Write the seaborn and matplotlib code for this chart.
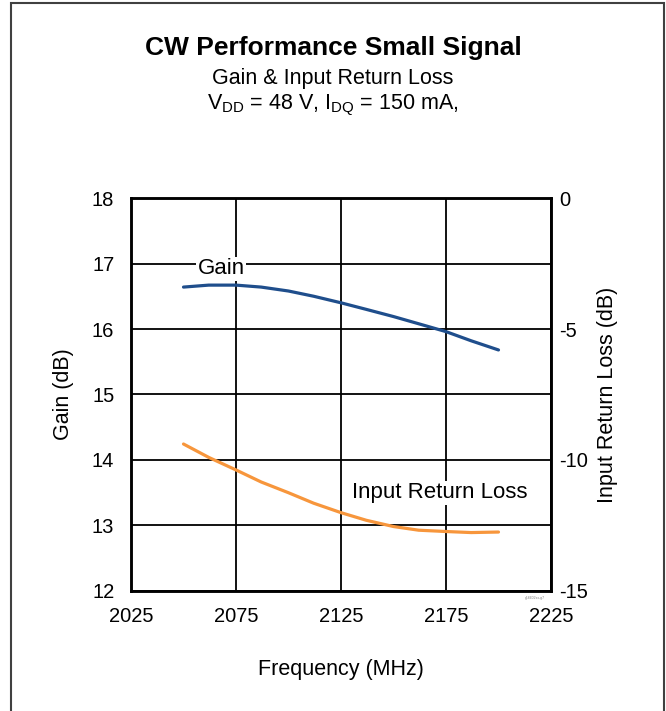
import pandas as pd
import matplotlib
matplotlib.use('Agg')
import matplotlib.pyplot as plt
import seaborn as sns
from matplotlib.patches import Rectangle

# data
freq_mhz = [2050, 2062, 2075, 2087, 2100, 2112, 2125, 2137, 2150, 2162, 2175, 2187, 2200]
gain_db = [16.64, 16.67, 16.67, 16.64, 16.58, 16.50, 16.40, 16.30, 16.19, 16.08, 15.96, 15.82, 15.68]
irl_db = [-9.39, -9.90, -10.38, -10.84, -11.25, -11.65, -12.01, -12.30, -12.54, -12.68, -12.73, -12.77, -12.75]

x_ticks = [2025, 2075, 2125, 2175, 2225]
gain_ticks = [12, 13, 14, 15, 16, 17, 18]
irl_ticks = [0, -5, -10, -15]

df = pd.DataFrame({'freq': freq_mhz, 'gain': gain_db, 'irl': irl_db})

sns.set_style('white')
plt.rcParams['font.family'] = ['Liberation Sans', 'DejaVu Sans']
plt.rcParams['axes.unicode_minus'] = False
plt.rcParams['text.color'] = 'black'
plt.rcParams['axes.labelcolor'] = 'black'
plt.rcParams['xtick.color'] = 'black'
plt.rcParams['ytick.color'] = 'black'

fig = plt.figure(figsize=(6.66, 7.11), dpi=100)
ax = fig.add_axes([0.1967, 0.1688, 0.6306, 0.5527])

sns.lineplot(data=df, x='freq', y='gain', ax=ax, color='#1f4e8c', linewidth=2.3)
ax.set_xlim(2025, 2225)
ax.set_ylim(12, 18)
ax.set_xticks(x_ticks)
ax.set_yticks(gain_ticks)
ax.grid(True, color='black', linewidth=1.3)
ax.tick_params(axis='x', length=0, labelsize=14.5, pad=11.5)
ax.tick_params(axis='y', length=0, labelsize=14.5, pad=12)
ax.set_xlabel('Frequency (MHz)', fontsize=15.5, labelpad=24)
ax.set_ylabel('Gain (dB)', fontsize=15.5, labelpad=13)
for s in ax.spines.values():
    s.set_color('black')
    s.set_linewidth(1.8)

ax2 = ax.twinx()
sns.lineplot(data=df, x='freq', y='irl', ax=ax2, color='#f7963c', linewidth=2.3)
ax2.set_ylim(-15, 0)
ax2.set_yticks(irl_ticks)
ax2.tick_params(length=0, labelsize=14.5, pad=6)
ax2.set_ylabel('Input Return Loss (dB)', fontsize=15.5, labelpad=6)
ax2.grid(False)
for s in ax2.spines.values():
    s.set_color('black')
    s.set_linewidth(1.8)

ax.text(2068, 16.92, 'Gain', fontsize=16, ha='center', va='center',
        bbox=dict(facecolor='white', edgecolor='none', pad=1))
ax.text(2172, 13.5, 'Input Return Loss', fontsize=16, ha='center', va='center',
        bbox=dict(facecolor='white', edgecolor='none', pad=1))
ax.text(2222, 11.92, 'g16602xx-g7', fontsize=2.5, color='gray', ha='right', va='top')

fig.text(0.5, 1 - 55 / 711, 'CW Performance Small Signal', fontsize=19, fontweight='bold',
         ha='center', va='baseline')
fig.text(0.5, 1 - 84 / 711, 'Gain & Input Return Loss', fontsize=15.5, ha='center', va='baseline')
fig.text(0.5, 1 - 109 / 711, r'V$_{\mathregular{DD}}$ = 48 V, I$_{\mathregular{DQ}}$ = 150 mA,',
         fontsize=15.5, ha='center', va='baseline')

fig.patches.append(Rectangle((11 / 666, -0.05), (664 - 11) / 666, 1.05 - 3 / 711,
                             transform=fig.transFigure, fill=False, edgecolor='#404040', linewidth=1.5))

fig.savefig('out.png', dpi=100)
